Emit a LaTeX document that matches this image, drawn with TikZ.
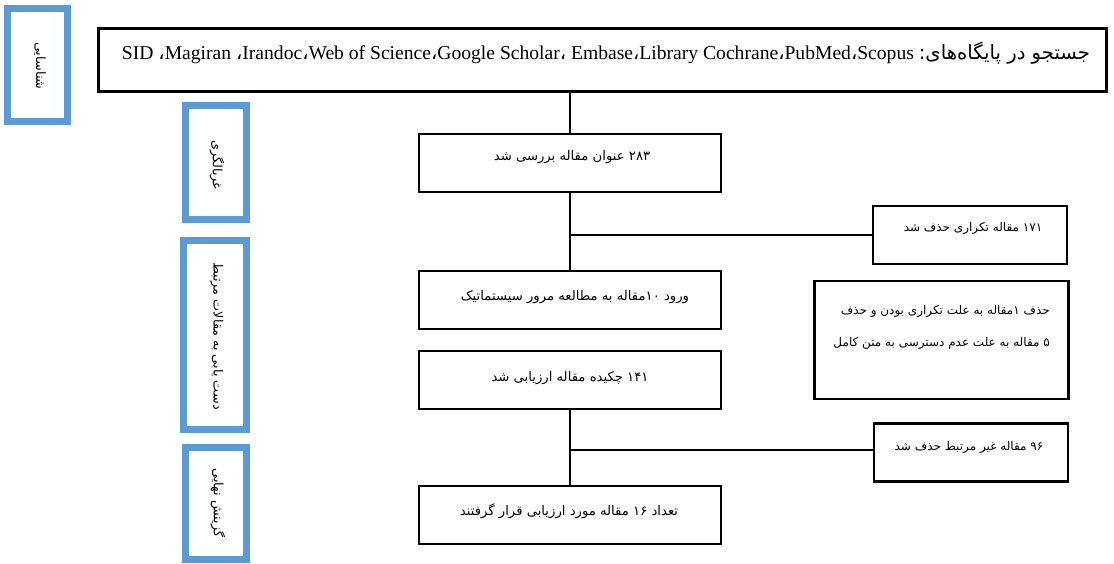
\documentclass[tikz,border=0pt]{standalone}
\usepackage{fontspec}
\setmainfont{Liberation Serif}
\newfontfamily\fa[Script=Arabic]{DejaVu Sans}
\TeXXeTstate=1
\definecolor{sideblue}{RGB}{91,155,213}
\tikzset{
  blk/.style={draw=black, line width=2.8pt, inner sep=0pt},
  mainbox/.style={blk, minimum width=302pt, minimum height=58pt},
  sidebox/.style={blk, minimum width=194pt, minimum height=58pt},
  bluebox/.style={draw=sideblue, line width=7pt, inner sep=0pt, minimum width=61pt},
  conn/.style={draw=black, line width=1.5pt},
  fatxt/.style={font=\fa\fontsize{13.2}{15}\selectfont, inner sep=0pt},
  fatxtr/.style={font=\fa\fontsize{12}{14}\selectfont, inner sep=0pt},
  sidetxt/.style={font=\fa\fontsize{12.8}{15}\selectfont, inner sep=0pt, rotate=-90},
}
\begin{document}
\begin{tikzpicture}[x=1pt,y=-1pt]
\useasboundingbox[fill=white] (0,0) rectangle (1114,563);

% side (blue) boxes
\node[bluebox, minimum width=59.5pt, minimum height=113pt] (s1) at (37.3,65) {};
\node[bluebox, minimum height=114pt] (s2) at (216,162.5) {};
\node[bluebox, minimum width=63pt, minimum height=189pt] (s3) at (215,335) {};
\node[bluebox, minimum height=112pt] (s4) at (216,503) {};
\node[sidetxt] (s1t) at (40,66) {\beginR شناسایی\endR};
\node[sidetxt] (s2t) at (217,165) {\beginR غربالگری\endR};
\node[sidetxt] (s3t) at (217,336) {\beginR دست یابی به مقالات مرتبط\endR};
\node[sidetxt] (s4t) at (218,503) {\beginR گزینش نهایی\endR};

% top box
\node[blk, minimum width=1008pt, minimum height=63pt] (top) at (602.5,60) {};
\node[inner sep=0pt, anchor=base] (toptxt) at (606,59) {\fontsize{19.6}{22}\selectfont SID {\fa ،}Magiran {\fa ،}Irandoc{\fa ،}Web of Science{\fa ،}Google Scholar{\fa ،} Embase{\fa ،}Library Cochrane{\fa ،}PubMed{\fa ،}Scopus {\fa\fontsize{19.6}{22}\selectfont\beginR جستجو در پایگاه‌های:\endR}};

% main column
\node[mainbox] (b283) at (570,163) {};
\node[fatxt] (t283) at (572,157) {\beginR ۲۸۳ عنوان مقاله بررسی شد\endR};
\node[mainbox] (b10) at (570,300) {};
\node[fatxt] (t10) at (575,297) {\beginR ورود ۱۰مقاله به مطالعه مرور سیستماتیک\endR};
\node[mainbox] (b141) at (570,380) {};
\node[fatxt] (t141) at (570,378) {\beginR ۱۴۱ چکیده مقاله ارزیابی شد\endR};
\node[mainbox] (b16) at (570,515) {};
\node[fatxt] (t16) at (569,511) {\beginR تعداد ۱۶ مقاله مورد ارزیابی قرار گرفتند\endR};

% right column
\node[sidebox] (b171) at (970,235) {};
\node[fatxtr] (t171) at (973,228) {\beginR ۱۷۱ مقاله تکراری حذف شد\endR};
\node[blk, minimum width=254pt, minimum height=118pt] (bdel) at (941.5,340) {};
\node[fatxtr, anchor=east] (tdel1) at (1050,311) {\beginR حذف ۱مقاله به علت تکراری بودن و حذف\endR};
\node[fatxtr, anchor=east] (tdel2) at (1050,343) {\beginR ۵ مقاله به علت عدم دسترسی به متن کامل\endR};
\node[sidebox] (b96) at (971,452.5) {};
\node[fatxtr] (t96) at (969,447) {\beginR ۹۶ مقاله غیر مرتبط حذف شد\endR};

% connectors
\coordinate (j1) at (570,235);
\coordinate (j2) at (570,450);
\draw[conn] (top.south -| b283.north) -- (b283.north);
\draw[conn] (b283.south) -- (b10.north);
\draw[conn] (j1) -- (j1 -| b171.west);
\draw[conn] (b141.south) -- (b16.north);
\draw[conn] (j2) -- (j2 -| b96.west);
\end{tikzpicture}
\end{document}
